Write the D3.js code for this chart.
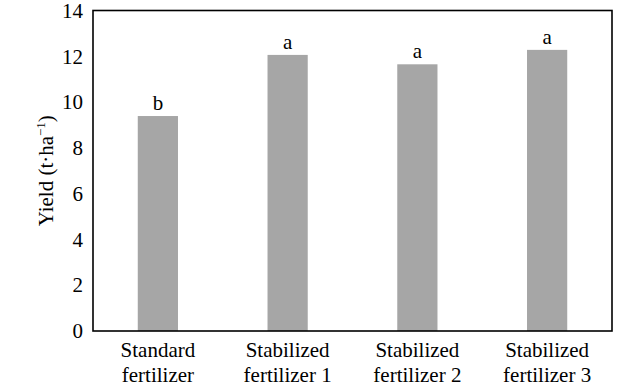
<!DOCTYPE html>
<html>
<head>
<meta charset="utf-8">
<script src="https://cdn.jsdelivr.net/npm/d3@7"></script>
<style>
  body { margin: 0; background: #fff; }
  svg text { font-family: "Liberation Serif", Tinos, "Times New Roman", Times, "DejaVu Serif", serif; fill: #000; }
</style>
</head>
<body>
<div id="chart"></div>
<script>
// data
const categories = ["Standard fertilizer", "Stabilized fertilizer 1", "Stabilized fertilizer 2", "Stabilized fertilizer 3"];
const labelLines = [["Standard", "fertilizer"], ["Stabilized", "fertilizer 1"], ["Stabilized", "fertilizer 2"], ["Stabilized", "fertilizer 3"]];
const yieldValues = [9.39, 12.06, 11.65, 12.28];
const sigLetters = ["b", "a", "a", "a"];
const yTicks = [0, 2, 4, 6, 8, 10, 12, 14];

const serif = '"Liberation Serif", Tinos, "Times New Roman", Times, "DejaVu Serif", serif';

const margin = { top: 10.5, right: 27, bottom: 58, left: 93 };
const width = 639 - margin.left - margin.right;
const height = 389 - margin.top - margin.bottom;

const svg = d3.select("#chart")
    .append("svg")
    .attr("width", 639)
    .attr("height", 389)
    .attr("font-family", serif)
    .append("g")
    .attr("transform", `translate(${margin.left},${margin.top})`);

const xScale = d3.scaleBand()
    .domain(categories)
    .range([0, width])
    .paddingInner(0.69)
    .paddingOuter(0.345);

const yScale = d3.scaleLinear()
    .domain([0, 14])
    .range([height, 0]);

// bars
svg.selectAll(".bar")
    .data(categories)
    .enter()
    .append("rect")
    .attr("class", "bar")
    .attr("x", d => xScale(d))
    .attr("y", (d, i) => yScale(yieldValues[i]))
    .attr("width", xScale.bandwidth())
    .attr("height", (d, i) => height - yScale(yieldValues[i]))
    .attr("fill", "#a6a6a6");

// significance letters
svg.selectAll(".sig")
    .data(categories)
    .enter()
    .append("text")
    .attr("class", "sig")
    .attr("x", d => xScale(d) + xScale.bandwidth() / 2)
    .attr("y", (d, i) => yScale(yieldValues[i]) - 6)
    .attr("text-anchor", "middle")
    .style("font-size", "21px")
    .text((d, i) => sigLetters[i]);

// y axis, no tick marks
const yAxis = svg.append("g")
    .call(d3.axisLeft(yScale).tickValues(yTicks).tickSize(0).tickPadding(10));
yAxis.attr("font-family", serif);
yAxis.select(".domain").remove();
yAxis.selectAll("text")
    .style("font-size", "21px");

// x axis with two-line labels
const xAxis = svg.append("g")
    .attr("transform", `translate(0, ${height})`)
    .call(d3.axisBottom(xScale).tickSize(0).tickFormat(""));
xAxis.attr("font-family", serif);
xAxis.select(".domain").remove();
xAxis.selectAll(".tick").each(function(d, i) {
    const t = d3.select(this).append("text")
        .attr("text-anchor", "middle")
        .style("font-size", "21px")
        .attr("fill", "#000");
    labelLines[i].forEach((line, j) => {
        t.append("tspan")
            .attr("x", 0)
            .attr("y", 26 + j * 25)
            .text(line);
    });
});

// plot frame
svg.append("rect")
    .attr("x", 0)
    .attr("y", 0)
    .attr("width", width)
    .attr("height", height)
    .attr("fill", "none")
    .attr("stroke", "#000")
    .attr("stroke-width", 1.6);

// y axis label
const yLabel = svg.append("text")
    .attr("transform", "rotate(-90)")
    .attr("x", -height / 2)
    .attr("y", -40)
    .attr("text-anchor", "middle")
    .style("font-size", "21px");
yLabel.append("tspan").text("Yield (t·ha");
yLabel.append("tspan").attr("dy", -8).style("font-size", "13px").text("−1");
yLabel.append("tspan").attr("dy", 8).text(")");
</script>
</body>
</html>
